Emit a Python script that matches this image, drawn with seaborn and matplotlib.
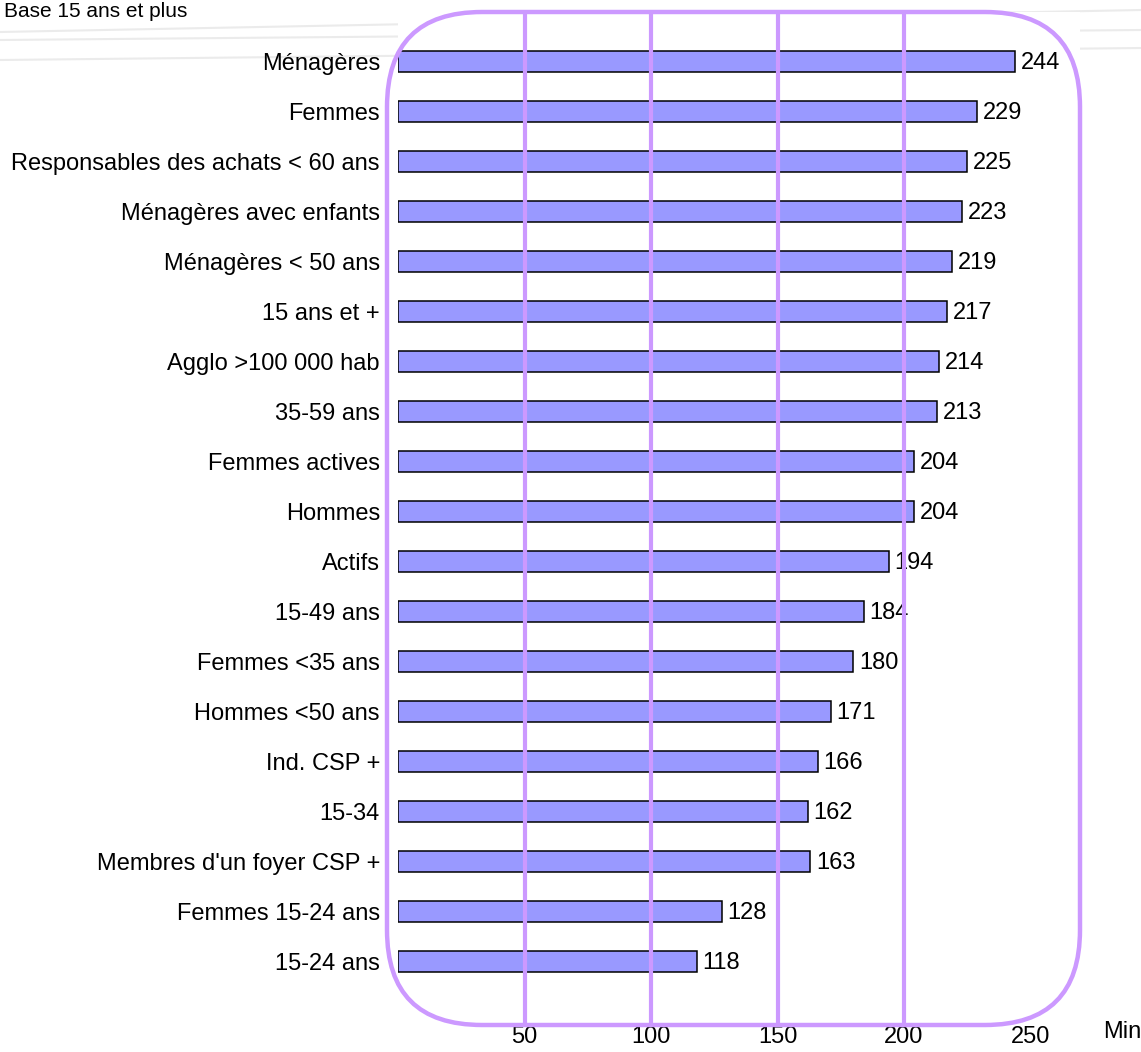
import matplotlib
matplotlib.use("Agg")
import matplotlib.pyplot as plt
from matplotlib.patches import FancyBboxPatch
from matplotlib.lines import Line2D
import pandas as pd
import seaborn as sns

# Durée d'écoute par cible (minutes)
categories = ["Ménagères", "Femmes", "Responsables des achats < 60 ans",
              "Ménagères avec enfants", "Ménagères < 50 ans", "15 ans et +",
              "Agglo >100 000 hab", "35-59 ans", "Femmes actives", "Hommes",
              "Actifs", "15-49 ans", "Femmes <35 ans", "Hommes <50 ans",
              "Ind. CSP +", "15-34", "Membres d'un foyer CSP +",
              "Femmes 15-24 ans", "15-24 ans"]
minutes = [244, 229, 225, 223, 219, 217, 214, 213, 204, 204,
           194, 184, 180, 171, 166, 162, 163, 128, 118]
ticks = [50, 100, 150, 200, 250]

df = pd.DataFrame({"cible": categories, "min": minutes})

sns.set_style("white")
plt.rcParams["font.family"] = ["Liberation Sans", "DejaVu Sans"]
plt.rcParams["text.color"] = "black"
plt.rcParams["xtick.color"] = "black"
plt.rcParams["ytick.color"] = "black"

W, H = 1141, 1052
fig = plt.figure(figsize=(W / 100, H / 100), dpi=100)
ax = fig.add_axes([398 / W, 27 / H, (1080 - 398) / W, (1025 - 12) / H])

sns.barplot(data=df, x="min", y="cible", orient="h", color="#9999FF",
            saturation=1, width=0.42, edgecolor="black", linewidth=1.1,
            ax=ax, zorder=2)

ax.set_xlim(0, 682 / 2.53)
ax.set_ylim(19.26, -0.98)
for s in ax.spines.values():
    s.set_visible(False)
ax.set_xlabel("")
ax.set_ylabel("")

# valeurs au bout des barres
for i, v in enumerate(minutes):
    ax.text(v + 2.2, i + 0.03, str(v), va="center", ha="left", fontsize=17, zorder=3)

# quadrillage violet par-dessus les barres
for t in ticks[:-1]:
    ax.axvline(t, color="#CC99FF", lw=3, zorder=4)

ax.set_xticks(ticks)
ax.set_xticklabels([str(t) for t in ticks], fontsize=17)
ax.tick_params(axis="x", length=0, pad=1)
ax.tick_params(axis="y", length=0, pad=13, labelsize=17)

# cadre arrondi
frame = FancyBboxPatch((3.87, 0.27), 10.80 - 3.87, 10.40 - 0.27,
                       boxstyle="round,pad=0,rounding_size=0.95",
                       transform=fig.dpi_scale_trans, fill=False,
                       edgecolor="#CC99FF", lw=3.2, zorder=5)
fig.add_artist(frame)

# fond : lignes grises discrètes
for y0, y1 in [(1052 - 32, 1052 - 10), (1052 - 40, 1052 - 30), (1052 - 60, 1052 - 48)]:
    fig.add_artist(Line2D([0, 1], [y0 / H, y1 / H], color="#EBEBEB", lw=1.5, zorder=0))

fig.text(187 / W, 1 - 2 / H, "Base 15 ans et plus", ha="right", va="top", fontsize=15)
fig.text(1103 / W, 20 / H, "Min", ha="left", va="center", fontsize=17)

fig.savefig("out.png", dpi=100)
